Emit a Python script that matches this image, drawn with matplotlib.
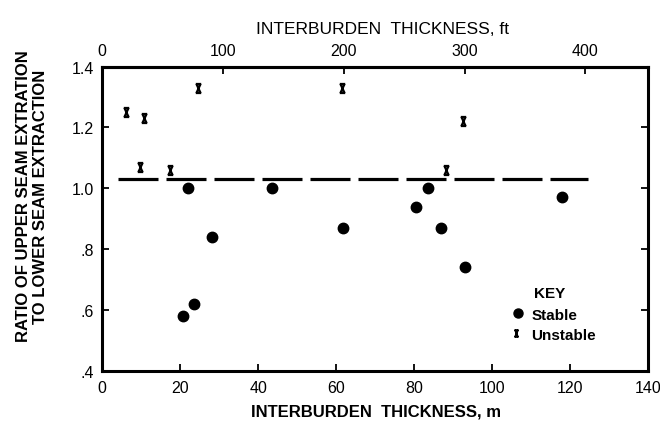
import matplotlib
matplotlib.use("Agg")
import matplotlib.pyplot as plt
from matplotlib.path import Path

plt.rcParams['font.family'] = ['Liberation Sans', 'DejaVu Sans']

# ---- data ----
stable_x = [20.7, 23.6, 22.0, 28.1, 43.5, 61.9, 80.6, 83.6, 86.9, 93.2, 118.0]
stable_y = [0.58, 0.62, 1.00, 0.84, 1.00, 0.87, 0.94, 1.00, 0.87, 0.74, 0.97]
unstable_x = [6.2, 9.7, 10.8, 17.3, 24.6, 61.6, 88.1, 92.6]
unstable_y = [1.25, 1.07, 1.23, 1.06, 1.33, 1.33, 1.06, 1.22]
threshold_y = 1.03
threshold_x = [4.1, 124.7]

x_ticks = [0, 20, 40, 60, 80, 100, 120, 140]
y_ticks = [0.4, 0.6, 0.8, 1.0, 1.2, 1.4]
y_ticklabels = ['.4', '.6', '.8', '1.0', '1.2', '1.4']
ft_ticks = [0, 100, 200, 300, 400]
M_PER_FT = 0.31  # as drawn on the original scale

# hourglass-like "x" marker
xverts = [(-0.6, 1), (0.6, 1), (-0.6, -1), (0.6, -1),
          (-0.45, 1), (0.45, -1), (0.45, 1), (-0.45, -1)]
xcodes = [Path.MOVETO, Path.LINETO] * 4
xmark = Path(xverts, xcodes)

fig = plt.figure(figsize=(6.6, 4.27), dpi=100)
ax = fig.add_axes([0.155, 0.1295, 0.8265, 0.712])

ax.plot(threshold_x, [threshold_y, threshold_y], color='black', lw=2.3,
        dashes=(40 * 0.72 / 2.3, 8 * 0.72 / 2.3), solid_capstyle='butt',
        dash_capstyle='butt')
ax.plot(stable_x, stable_y, 'o', color='black', ms=7.5, ls='none')
ax.plot(unstable_x, unstable_y, marker=xmark, color='black', ms=6.5, mew=1.6,
        ls='none')

ax.set_xlim(0, 140)
ax.set_ylim(0.4, 1.4)
ax.set_xticks(x_ticks)
ax.set_yticks(y_ticks)
ax.set_yticklabels(y_ticklabels)
for s in ax.spines.values():
    s.set_linewidth(2.2)
ax.tick_params(direction='in', length=5, width=1.3, labelsize=11.5,
               right=True, top=False)
ax.tick_params(axis='x', pad=7)
ax.tick_params(axis='y', pad=6)

sec = ax.secondary_xaxis('top', functions=(lambda m: m / M_PER_FT,
                                           lambda f: f * M_PER_FT))
sec.set_xticks(ft_ticks)
sec.tick_params(direction='in', length=5, width=1.3, labelsize=11.5, pad=6)
sec.spines['top'].set_linewidth(2.2)

# legend (KEY)
ax.text(0.820, 0.256, 'KEY', transform=ax.transAxes, ha='center', va='center',
        fontsize=11, fontweight='bold')
ax.plot([0.762], [0.189], 'o', color='black', ms=6.5, transform=ax.transAxes,
        clip_on=False)
ax.text(0.787, 0.183, 'Stable', transform=ax.transAxes, ha='left', va='center',
        fontsize=11, fontweight='bold')
ax.plot([0.759], [0.124], marker=xmark, color='black', ms=5, mew=1.3,
        transform=ax.transAxes, clip_on=False)
ax.text(0.787, 0.118, 'Unstable', transform=ax.transAxes, ha='left',
        va='center', fontsize=11, fontweight='bold')

fig.text(0.570, 0.035, 'INTERBURDEN  THICKNESS, m', ha='center', va='center',
         fontsize=12, fontweight='bold')
fig.text(0.579, 0.930, 'INTERBURDEN  THICKNESS, ft', ha='center', va='center',
         fontsize=12.5)
fig.text(0.049, 0.54, 'RATIO OF UPPER SEAM EXTRATION\nTO LOWER SEAM EXTRACTION',
         rotation=90, ha='center', va='center', multialignment='center',
         fontsize=12, fontweight='bold', linespacing=1.15,
         family=['Liberation Sans Narrow', 'Liberation Sans', 'DejaVu Sans'])

fig.savefig('out.png', dpi=100)
